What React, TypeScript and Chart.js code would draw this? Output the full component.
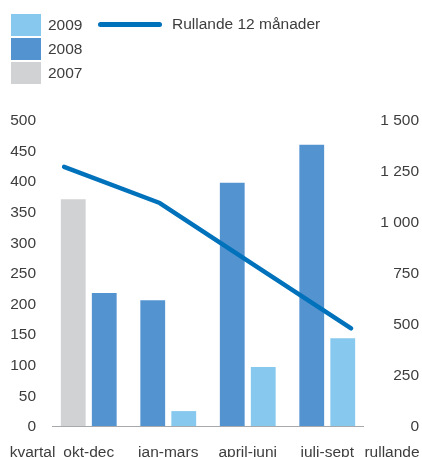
import { useEffect, useRef } from 'react';
import { Chart, registerables } from 'chart.js';

Chart.register(...registerables);

// Quarterly figures per year, plus the rolling 12‑month total (right axis)
const quarters = ['okt-dec', 'jan-mars', 'april-juni', 'juli-sept'];
const years = ['2007', '2008', '2009'];
const values2007: (number | null)[] = [372, null, null, null];
const values2008: (number | null)[] = [219, 207, 399, 461];
const values2009: (number | null)[] = [null, 26, 98, 145];
const rolling12 = [1275, 1098, 790, 484];
const rollingLabel = 'Rullande 12 månader';
const leftAxisLabel = 'kvartal';
const rightAxisLabel = 'rullande';
const leftMax = 500;
const leftStep = 50;
const rightMax = 1500;
const rightStep = 250;

// The rolling line runs from just left of the first quarter group to just right
// of the last one (in category units on the shared x axis).
const LINE_FROM = -0.31;
const LINE_TO = 3.3;

const FONT = '"Liberation Sans", Arial, Helvetica, sans-serif';
const TEXT = '#3d3d3d';
const FONT_SIZE = 15.5;
const X_LABEL_PADDING = 16;
const COLORS: Record<string, string> = {
  '2007': '#d1d2d4',
  '2008': '#5393d0',
  '2009': '#86c8ee',
};
const LINE_COLOR = '#0072bc';
const AXIS_COLOR = '#a7a9ac';

const formatThousands = (v: number) =>
  String(Math.round(v)).replace(/\B(?=(\d{3})+(?!\d))/g, ' ');

const linePoints = rolling12.map((y, i) => ({
  x: LINE_FROM + (i * (LINE_TO - LINE_FROM)) / (rolling12.length - 1),
  y,
}));

// Baseline under the bars and the two axis captions next to the quarter labels
const decorations = {
  id: 'decorations',
  afterDatasetsDraw(chart: Chart) {
    const { ctx, chartArea } = chart;
    ctx.save();
    ctx.strokeStyle = AXIS_COLOR;
    ctx.lineWidth = 1;
    ctx.beginPath();
    ctx.moveTo(chartArea.left + 3, chartArea.bottom - 0.5);
    ctx.lineTo(chartArea.right - 3, chartArea.bottom - 0.5);
    ctx.stroke();
    ctx.restore();
  },
  afterDraw(chart: Chart) {
    const { ctx, chartArea } = chart;
    // same vertical placement as the quarter labels (padding + half a line)
    const y = chartArea.bottom + X_LABEL_PADDING + (FONT_SIZE * 1.2) / 2;
    ctx.save();
    ctx.fillStyle = TEXT;
    ctx.font = `${FONT_SIZE}px ${FONT}`;
    ctx.textBaseline = 'middle';
    ctx.textAlign = 'center';
    ctx.fillText(leftAxisLabel, chartArea.left - 16.5, y);
    ctx.fillText(rightAxisLabel, chartArea.right + 25, y);
    ctx.restore();
  },
};

const legendBars = [
  { label: years[2], color: COLORS['2009'] },
  { label: years[1], color: COLORS['2008'] },
  { label: years[0], color: COLORS['2007'] },
];

export default function App() {
  const canvasRef = useRef<HTMLCanvasElement>(null);

  useEffect(() => {
    const canvas = canvasRef.current;
    if (!canvas) return;
    const tickFont = { family: FONT, size: FONT_SIZE };
    const chart = new Chart(canvas, {
      type: 'bar',
      data: {
        labels: quarters,
        datasets: [
          {
            type: 'line',
            label: rollingLabel,
            data: linePoints,
            parsing: false,
            yAxisID: 'y1',
            borderColor: LINE_COLOR,
            backgroundColor: LINE_COLOR,
            borderWidth: 4.5,
            borderCapStyle: 'round',
            borderJoinStyle: 'round',
            pointRadius: 0,
            tension: 0,
          } as any,
          {
            type: 'bar',
            label: years[0],
            data: values2007,
            backgroundColor: COLORS['2007'],
            yAxisID: 'y',
            skipNull: true,
          } as any,
          {
            type: 'bar',
            label: years[1],
            data: values2008,
            backgroundColor: COLORS['2008'],
            yAxisID: 'y',
            skipNull: true,
          } as any,
          {
            type: 'bar',
            label: years[2],
            data: values2009,
            backgroundColor: COLORS['2009'],
            yAxisID: 'y',
            skipNull: true,
          } as any,
        ],
      },
      options: {
        responsive: false,
        animation: false,
        devicePixelRatio: 1,
        layout: { padding: { top: 121, right: 3, left: 0, bottom: 0 } },
        datasets: {
          bar: {
            categoryPercentage: 0.78,
            barPercentage: 0.8,
            skipNull: true,
          } as any,
        },
        plugins: {
          legend: { display: false },
          tooltip: { enabled: false },
        },
        scales: {
          x: {
            type: 'category',
            grid: { display: false, drawTicks: false },
            border: { display: false },
            ticks: { color: TEXT, font: tickFont, padding: X_LABEL_PADDING, maxRotation: 0 },
            afterFit: (s: any) => {
              s.height = 30;
            },
          },
          y: {
            position: 'left',
            min: 0,
            max: leftMax,
            grid: { display: false, drawTicks: false },
            border: { display: false },
            ticks: { stepSize: leftStep, color: TEXT, font: tickFont, padding: 13 },
            afterFit: (s: any) => {
              s.width = 49;
            },
          },
          y1: {
            position: 'right',
            min: 0,
            max: rightMax,
            grid: { display: false, drawTicks: false },
            border: { display: false },
            ticks: {
              stepSize: rightStep,
              color: TEXT,
              font: tickFont,
              crossAlign: 'far',
              callback: (v: any) => formatThousands(Number(v)),
            },
            afterFit: (s: any) => {
              s.width = 52;
            },
          },
        },
      } as any,
      plugins: [decorations as any],
    });
    return () => chart.destroy();
  }, []);

  return (
    <div
      style={{
        position: 'fixed',
        left: 0,
        top: 0,
        width: 422,
        height: 457,
        background: '#fff',
        fontFamily: FONT,
        color: TEXT,
        fontSize: FONT_SIZE,
        overflow: 'hidden',
      }}
    >
      <canvas
        ref={canvasRef}
        width={422}
        height={457}
        style={{ position: 'absolute', left: 0, top: 0, width: 422, height: 457 }}
      />
      {legendBars.map((item, i) => (
        <div
          key={item.label}
          style={{
            position: 'absolute',
            left: 11,
            top: 14 + i * 24,
            height: 22,
            display: 'flex',
            alignItems: 'center',
            whiteSpace: 'nowrap',
          }}
        >
          <span
            style={{ display: 'inline-block', width: 30, height: 22, background: item.color }}
          />
          <span style={{ marginLeft: 7, lineHeight: '22px' }}>{item.label}</span>
        </div>
      ))}
      <div
        style={{
          position: 'absolute',
          left: 98,
          top: 13,
          height: 22,
          display: 'flex',
          alignItems: 'center',
          whiteSpace: 'nowrap',
        }}
      >
        <span
          style={{
            display: 'inline-block',
            width: 64,
            height: 5,
            borderRadius: 2.5,
            background: LINE_COLOR,
          }}
        />
        <span style={{ marginLeft: 10, lineHeight: '22px' }}>{rollingLabel}</span>
      </div>
    </div>
  );
}
